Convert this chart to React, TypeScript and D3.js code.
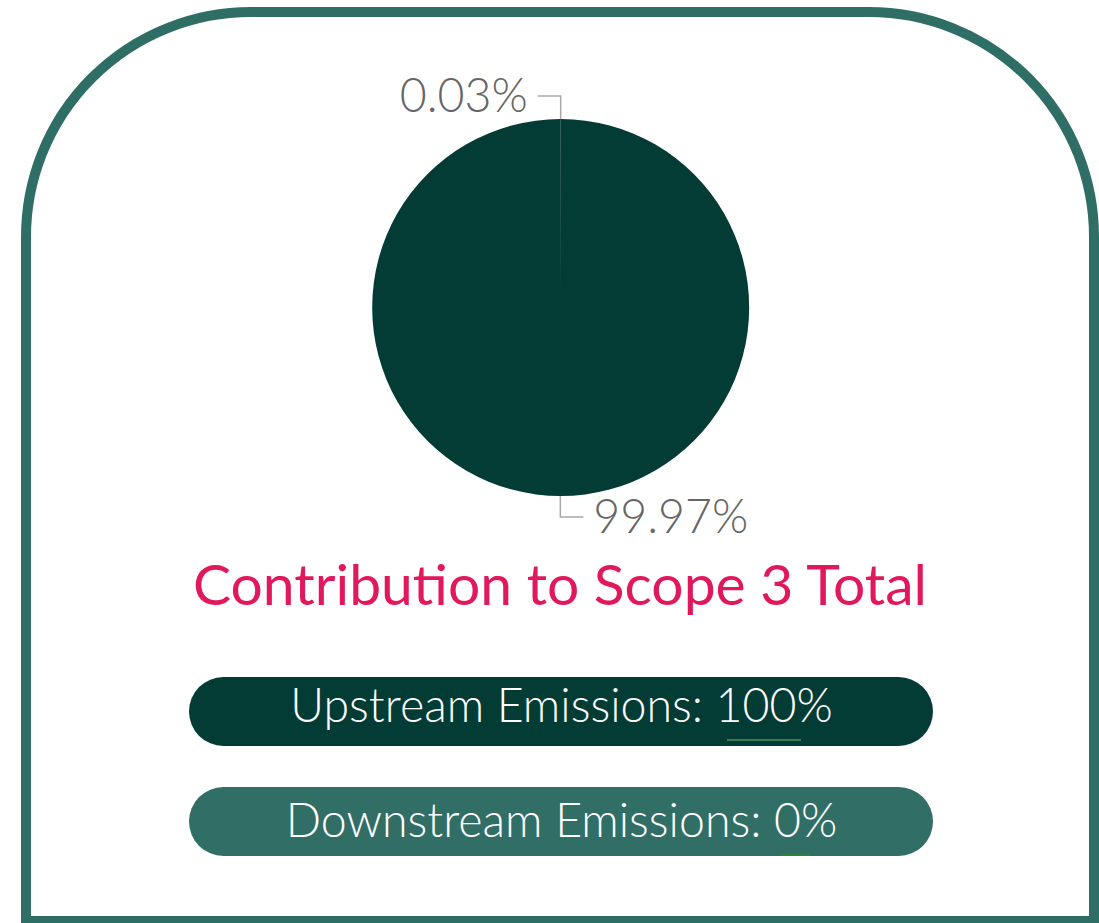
import React from "react";
import * as d3 from "d3";

const sliceLabels = ["0.03%", "99.97%"];
const sliceValues = [0.03, 99.97];
const sliceColors = ["#5d8a84", "#033b35"];
const titleText = "Contribution to Scope 3 Total";
const pillLabels = ["Upstream Emissions: ", "Downstream Emissions: "];
const pillValues = ["100%", "0%"];
const pillColors = ["#033b35", "#306e66"];

const W = 1099;
const H = 923;

export default function App() {
  const cx = 560.5;
  const cy = 307.5;
  const r = 188.5;
  const pie = d3.pie<number>().sort(null).value((d) => d);
  const arcs = pie(sliceValues);
  const arc = d3.arc<d3.PieArcDatum<number>>().innerRadius(0).outerRadius(r);

  const pillX = 189;
  const pillW = 744;
  const pillH = 69;
  const pillY = d3.scaleBand<number>().domain([0, 1]).range([677, 677 + 110 * 2]).paddingInner(0);
  const baseOff = [45, 50];

  return (
    <svg width={W} height={H} style={{ position: "absolute", left: 0, top: 0, background: "#fff" }}>
      <path
        d={`M26,921 L26,237 A225,225 0 0 1 251,12 L869,12 A225,225 0 0 1 1094,237 L1094,921 Z`}
        fill="#fff"
        stroke="#2f6e65"
        strokeWidth={10}
      />
      <g transform={`translate(${cx},${cy})`}>
        {arcs.map((a, i) => (
          <path key={i} d={arc(a) || ""} fill={sliceColors[i]} stroke={i === 0 ? "#7fa09b" : "none"} strokeWidth={0.6} />
        ))}
        {arcs.map((a, i) => {
          const mid = (a.startAngle + a.endAngle) / 2;
          const px = Math.sin(mid) * r;
          const py = -Math.cos(mid) * r;
          const up = py < 0;
          const ey = up ? py - 23 : py + 21;
          const ex = up ? px - 23 : px + 23;
          return (
            <g key={"l" + i}>
              <polyline
                points={`${px},${py} ${px},${ey} ${ex},${ey}`}
                fill="none"
                stroke="#a8a8a8"
                strokeWidth={1.5}
              />
              <text
                x={up ? ex - 10 : ex + 10}
                y={ey}
                dy="0.35em"
                textAnchor={up ? "end" : "start"}
                fontFamily="Lato, sans-serif"
                fontWeight={300}
                fontSize={46.5}
                fill="#666666"
              >
                {sliceLabels[i]}
              </text>
            </g>
          );
        })}
      </g>
      <text
        x={560}
        y={605}
        textAnchor="middle"
        fontFamily="Lato, sans-serif"
        fontWeight={400}
        fontSize={57}
        fill="#e2185f"
      >
        {titleText}
      </text>
      {pillLabels.map((lab, i) => {
        const y = pillY(i)!;
        return (
          <g key={"p" + i}>
            <rect x={pillX} y={y} width={pillW} height={pillH} rx={34.5} ry={34.5} fill={pillColors[i]} />
            <text
              x={pillX + pillW / 2 + 0.5}
              y={y + baseOff[i]}
              textAnchor="middle"
              fontFamily="Lato, sans-serif"
              fontWeight={300}
              fontSize={46.5}
              fill="#ffffff"
            >
              {lab}
              <tspan>{pillValues[i]}</tspan>
            </text>
          </g>
        );
      })}
      <line x1={727} x2={801} y1={740} y2={740} stroke="#3f7a4c" strokeWidth={2} />
      <line x1={781} x2={810} y1={855} y2={855} stroke="#2f7f45" strokeWidth={2} />
    </svg>
  );
}
